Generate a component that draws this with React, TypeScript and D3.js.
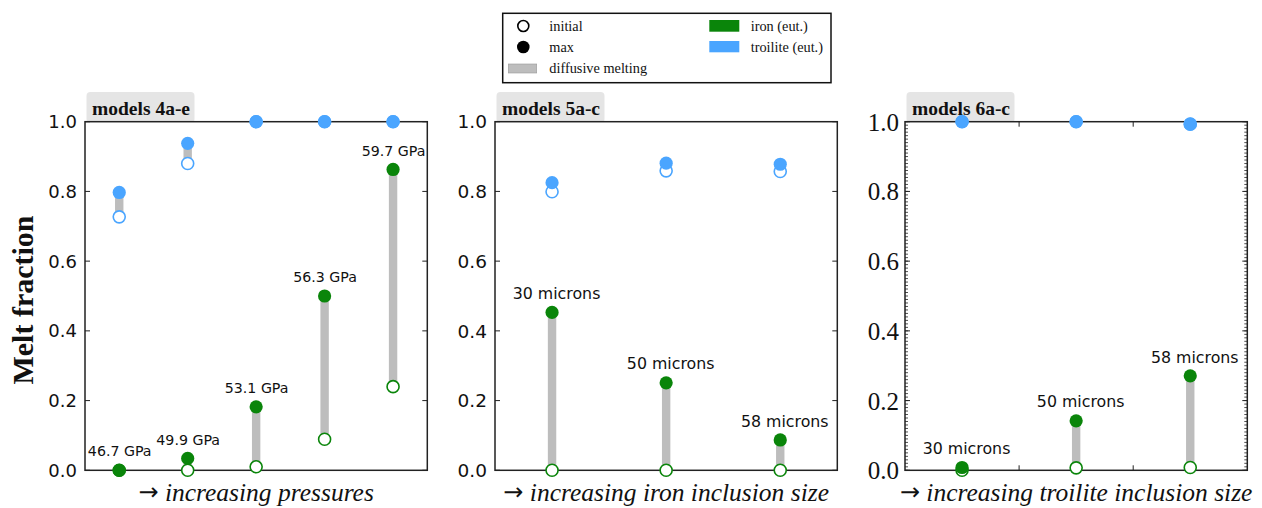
import React from "react";
import * as d3 from "d3";

// ---------- data ----------
const p1Labels = ["46.7 GPa", "49.9 GPa", "53.1 GPa", "56.3 GPa", "59.7 GPa"];
const p1IronInit = [0.0, 0.0, 0.01, 0.089, 0.24];
const p1IronMax = [0.0, 0.034, 0.182, 0.5, 0.863];
const p1TroInit = [0.727, 0.88, 1.0, 1.0, 1.0];
const p1TroMax = [0.797, 0.938, 1.0, 1.0, 1.0];

const p2Labels = ["30 microns", "50 microns", "58 microns"];
const p2IronInit = [0.0, 0.0, 0.0];
const p2IronMax = [0.453, 0.251, 0.087];
const p2TroInit = [0.799, 0.859, 0.857];
const p2TroMax = [0.825, 0.881, 0.878];

const p3Labels = ["30 microns", "50 microns", "58 microns"];
const p3IronInit = [0.0, 0.007, 0.008];
const p3IronMax = [0.008, 0.142, 0.271];
const p3TroInit = [1.0, 1.0, 0.993];
const p3TroMax = [1.0, 1.0, 0.993];

const yTicks = [0, 0.2, 0.4, 0.6, 0.8, 1.0];
const titles = ["models 4a-e", "models 5a-c", "models 6a-c"];
const xTitles = [
  "increasing pressures",
  "increasing iron inclusion size",
  "increasing troilite inclusion size",
];

const GREEN = "#0a850a";
const BLUE = "#4aa5ff";
const GRAY = "#bdbdbd";
const SERIF = "'Liberation Serif', 'Times New Roman', serif";
const SANS = "'DejaVu Sans', sans-serif";

type PanelProps = {
  left: number;
  labels: string[];
  ironInit: number[];
  ironMax: number[];
  troInit: number[];
  troMax: number[];
  title: string;
  xTitle: string;
  serifTicks: boolean;
  labelSize: number;
  labelDx: number;
  tickSize: number;
};

const TOP = 121.7;
const BOTTOM = 470.3;
const WIDTH = 342.3;

function Panel(p: PanelProps) {
  const n = p.labels.length;
  const x = d3.scaleLinear().domain([-0.5, n - 0.5]).range([p.left, p.left + WIDTH]);
  const y = d3.scaleLinear().domain([0, 1]).range([BOTTOM, TOP]);
  const idx = d3.range(n);
  const R = 6.6;
  const minor = p.serifTicks ? d3.range(0, 101).map((i) => i / 100) : [];
  const xMajor = p.serifTicks ? d3.range(0, n - 1).map((i) => i + 0.5) : [];
  const series = [
    { init: p.troInit, max: p.troMax, color: BLUE },
    { init: p.ironInit, max: p.ironMax, color: GREEN },
  ];
  return (
    <g>
      {/* title box */}
      <rect x={p.left + 1.5} y={92} width={108} height={31} rx={4} fill="#e5e5e5" />
      <text
        x={p.left + 7}
        y={115}
        fontFamily={SERIF}
        fontWeight="bold"
        fontSize={19.5}
        fill="#111"
      >
        {p.title}
      </text>
      {/* axes frame */}
      <rect
        x={p.left}
        y={TOP}
        width={WIDTH}
        height={BOTTOM - TOP}
        fill="white"
        stroke="#222"
        strokeWidth={1.5}
      />
      {/* minor ticks */}
      {minor.map((v) => (
        <g key={"m" + v}>
          <line x1={x(-0.5)} x2={x(-0.5) + 3} y1={y(v)} y2={y(v)} stroke="#222" strokeWidth={0.8} />
          <line x1={x(n - 0.5)} x2={x(n - 0.5) - 3} y1={y(v)} y2={y(v)} stroke="#222" strokeWidth={0.8} />
        </g>
      ))}
      {/* major y ticks */}
      {yTicks.map((v) => (
        <g key={"t" + v}>
          <line x1={x(-0.5)} x2={x(-0.5) + 5} y1={y(v)} y2={y(v)} stroke="#222" strokeWidth={1} />
          <line x1={x(n - 0.5)} x2={x(n - 0.5) - 5} y1={y(v)} y2={y(v)} stroke="#222" strokeWidth={1} />
          <text
            x={x(-0.5) - (p.serifTicks ? 6 : 8)}
            y={y(v)}
            dy="0.36em"
            textAnchor="end"
            fontFamily={p.serifTicks ? SERIF : SANS}
            fontSize={p.tickSize}
            fill="#111"
          >
            {v.toFixed(1)}
          </text>
        </g>
      ))}
      {xMajor.map((v) => (
        <g key={"x" + v}>
          <line x1={x(v)} x2={x(v)} y1={BOTTOM} y2={BOTTOM - 5} stroke="#222" strokeWidth={1} />
          <line x1={x(v)} x2={x(v)} y1={TOP} y2={TOP + 5} stroke="#222" strokeWidth={1} />
        </g>
      ))}
      {/* diffusive melting bars */}
      {series.map((s, si) =>
        idx.map((i) => (
          <rect
            key={"b" + si + i}
            x={x(i) - 4.2}
            width={8.4}
            y={y(s.max[i])}
            height={Math.max(0, y(s.init[i]) - y(s.max[i]))}
            fill={GRAY}
          />
        ))
      )}
      {/* initial (open) */}
      {series.map((s, si) =>
        idx.map((i) => (
          <circle
            key={"o" + si + i}
            cx={x(i)}
            cy={y(s.init[i])}
            r={R - 0.6}
            fill="white"
            stroke={s.color}
            strokeWidth={1.6}
          />
        ))
      )}
      {/* max (filled) */}
      {series.map((s, si) =>
        idx.map((i) => (
          <circle key={"f" + si + i} cx={x(i)} cy={y(s.max[i])} r={R} fill={s.color} />
        ))
      )}
      {/* labels */}
      {idx.map((i) => (
        <text
          key={"l" + i}
          x={x(i) + p.labelDx}
          y={y(p.ironMax[i]) - 19}
          dy="0.36em"
          textAnchor="middle"
          fontFamily={SANS}
          fontSize={p.labelSize}
          fill="#111"
        >
          {p.labels[i]}
        </text>
      ))}
      <text
        x={p.left + WIDTH / 2}
        y={501}
        textAnchor="middle"
        fontFamily={SERIF}
        fontSize={25.5}
        fill="#111"
      >
        <tspan fontFamily={SANS} fontSize={24} dy="-1">{"\u2192"}</tspan>
        <tspan fontStyle="italic" dy="1">{" " + p.xTitle}</tspan>
      </text>
    </g>
  );
}

function Legend() {
  const lx = 502.7;
  const ly = 13.3;
  return (
    <g fontFamily={SERIF} fontSize={14.3} fill="#111">
      <rect x={lx} y={ly} width={328.3} height={69.4} fill="white" stroke="#111" strokeWidth={1.5} />
      <circle cx={523.3} cy={26} r={5.5} fill="white" stroke="#000" strokeWidth={1.6} />
      <text x={549.3} y={26} dy="0.35em">initial</text>
      <circle cx={523.3} cy={47} r={6.3} fill="#000" />
      <text x={549.3} y={47} dy="0.35em">max</text>
      <rect x={508.3} y={64} width={28.4} height={9} fill={GRAY} stroke="#999" strokeWidth={0.6} />
      <text x={549.3} y={68.3} dy="0.35em">diffusive melting</text>
      <rect x={709.3} y={20} width={30} height={11.7} fill={GREEN} />
      <text x={750.7} y={26} dy="0.35em">iron (eut.)</text>
      <rect x={709.3} y={41} width={30} height={11.3} fill={BLUE} />
      <text x={750.7} y={47} dy="0.35em">troilite (eut.)</text>
    </g>
  );
}

export default function App() {
  return (
    <svg width={1262} height={508} style={{ position: "absolute", left: 0, top: 0, background: "white" }}>
      <rect width={1262} height={508} fill="white" />
      <text
        transform="translate(33,300) rotate(-90)"
        textAnchor="middle"
        fontFamily={SERIF}
        fontWeight="bold"
        fontSize={30}
        fill="#111"
      >
        Melt fraction
      </text>
      <Panel
        left={85}
        labels={p1Labels}
        ironInit={p1IronInit}
        ironMax={p1IronMax}
        troInit={p1TroInit}
        troMax={p1TroMax}
        title={titles[0]}
        xTitle={xTitles[0]}
        serifTicks={false}
        labelSize={14.2}
        labelDx={0.5}
        tickSize={18}
      />
      <Panel
        left={495}
        labels={p2Labels}
        ironInit={p2IronInit}
        ironMax={p2IronMax}
        troInit={p2TroInit}
        troMax={p2TroMax}
        title={titles[1]}
        xTitle={xTitles[1]}
        serifTicks={false}
        labelSize={15.8}
        labelDx={4.5}
        tickSize={18.5}
      />
      <Panel
        left={905}
        labels={p3Labels}
        ironInit={p3IronInit}
        ironMax={p3IronMax}
        troInit={p3TroInit}
        troMax={p3TroMax}
        title={titles[2]}
        xTitle={xTitles[2]}
        serifTicks={true}
        labelSize={15.8}
        labelDx={4.5}
        tickSize={25}
      />
      <Legend />
    </svg>
  );
}
